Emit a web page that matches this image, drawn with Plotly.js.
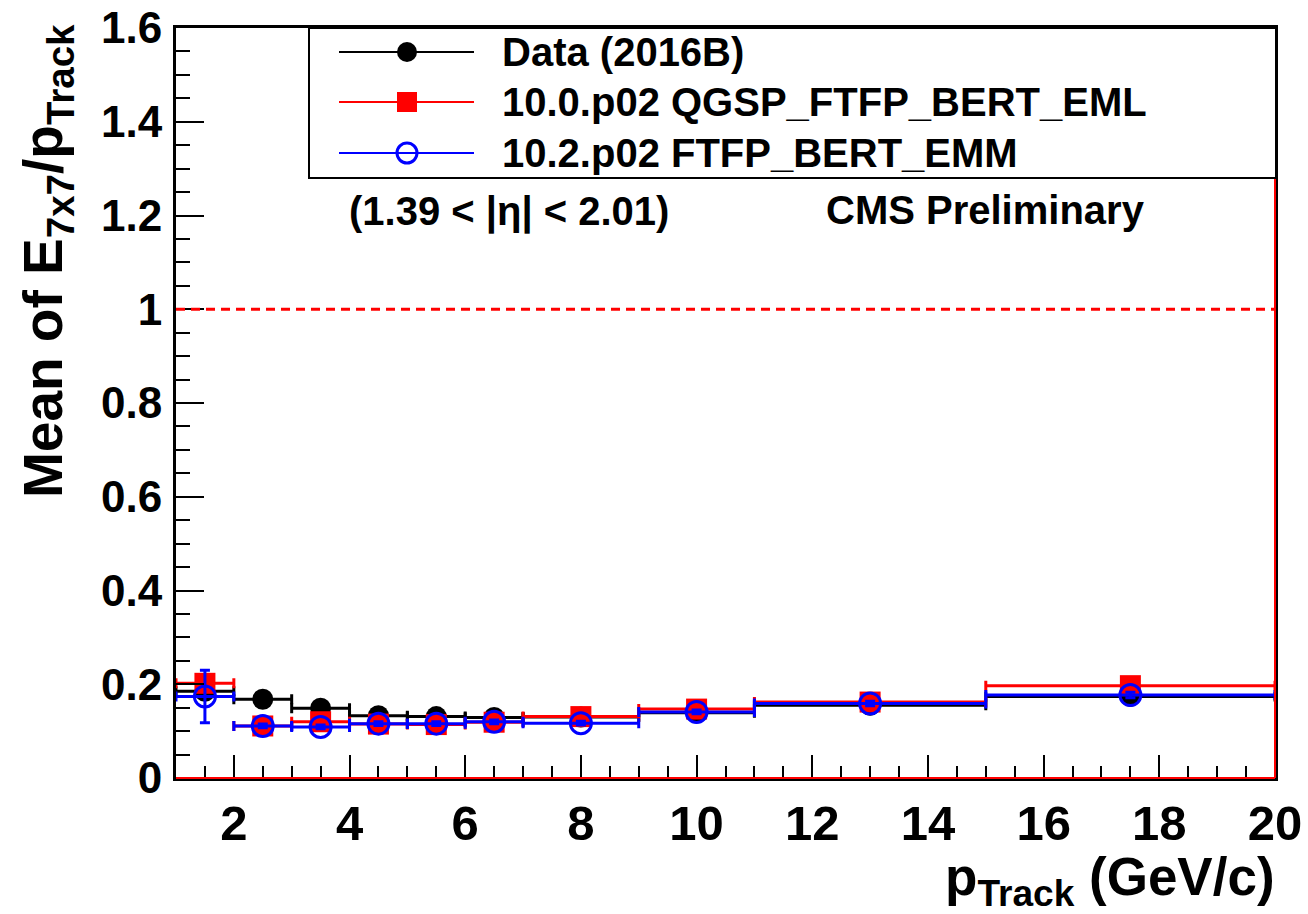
<!DOCTYPE html>
<html>
<head>
<meta charset="utf-8">
<script src="https://cdn.plot.ly/plotly-3.0.1.min.js"></script>
<style>html,body{margin:0;padding:0;background:#fff;}#chart{width:1308px;height:914px;}</style>
</head>
<body>
<div id="chart"></div>
<script>
// ---- data ----
const pTrack      = [1.5, 2.5, 3.5, 4.5, 5.5, 6.5, 8, 10, 13, 17.5];
const binHalf     = [0.5, 0.5, 0.5, 0.5, 0.5, 0.5, 1, 1, 2, 2.5];
const dataMean    = [0.185, 0.168, 0.149, 0.133, 0.131, 0.129, 0.130, 0.139, 0.155, 0.174];
const dataErr     = [0.004, 0.003, 0.003, 0.003, 0.003, 0.003, 0.003, 0.003, 0.004, 0.005];
const qgspMean    = [0.202, 0.111, 0.120, 0.115, 0.114, 0.119, 0.131, 0.147, 0.162, 0.197];
const qgspErr     = [0.010, 0.004, 0.004, 0.004, 0.004, 0.004, 0.004, 0.004, 0.005, 0.006];
const ftfpMean    = [0.174, 0.111, 0.109, 0.116, 0.116, 0.120, 0.117, 0.141, 0.159, 0.177];
const ftfpErr     = [0.056, 0.004, 0.004, 0.004, 0.004, 0.004, 0.004, 0.004, 0.005, 0.006];
const seriesNames = ["Data (2016B)", "10.0.p02 QGSP_FTFP_BERT_EML", "10.2.p02 FTFP_BERT_EMM"];
const xTitle = "p<sub>Track</sub> (GeV/c)";
const yTitle = "Mean of E<sub>7x7</sub>/p<sub>Track</sub>";
const etaLabel = "(1.39 < |η| < 2.01)";
const cmsLabel = "CMS Preliminary";

// ---- layout geometry ----
const W = 1308, H = 914;
const L = 176, R = 1275, T = 28, B = 778;
const px = x => (x - L) / (R - L);
const py = y => (B - y) / (B - T);
const FONT = "Liberation Sans, Arial, Helvetica, sans-serif";

function trace(y, ey, color, symbol, name, lineW) {
  return {
    type: 'scatter', mode: 'markers', x: pTrack, y: y, name: name,
    marker: {color: color, symbol: symbol, size: 21,
             line: {color: color, width: lineW}},
    error_x: {type: 'data', array: binHalf, color: color, thickness: 3, width: 5},
    error_y: {type: 'data', array: ey, color: color, thickness: 3, width: 5},
    showlegend: false, cliponaxis: false
  };
}

const traces = [
  trace(dataMean, dataErr, '#000000', 'circle', seriesNames[0], 0),
  trace(qgspMean, qgspErr, '#ff0000', 'square', seriesNames[1], 0),
  trace(ftfpMean, ftfpErr, '#0000ff', 'circle-open', seriesNames[2], 3)
];

const shapes = [
  {type: 'line', xref: 'paper', yref: 'y', x0: 0, x1: 1, y0: 1, y1: 1,
   line: {color: '#ff0000', width: 3, dash: '9px,6px'}, layer: 'above'},
  {type: 'line', xref: 'paper', yref: 'paper', x0: 0, x1: 1, y0: 0, y1: 0,
   line: {color: '#ff0000', width: 2}, layer: 'above'},
  {type: 'line', xref: 'paper', yref: 'paper', x0: 1, x1: 1, y0: 0, y1: 1,
   line: {color: '#ff0000', width: 2}, layer: 'above'},
  {type: 'rect', xref: 'paper', yref: 'paper', x0: px(309), x1: px(1276), y0: py(178), y1: py(28),
   fillcolor: '#ffffff', line: {color: '#000000', width: 2}, layer: 'above'}
];
const legendY = [52, 102, 153];
const legendCol = ['#000000', '#ff0000', '#0000ff'];
legendY.forEach((yy, i) => {
  shapes.push({type: 'line', xref: 'paper', yref: 'paper', x0: px(339), x1: px(474), y0: py(yy), y1: py(yy),
               line: {color: legendCol[i], width: 2}, layer: 'above'});
});
shapes.push({type: 'circle', xref: 'paper', yref: 'paper', xsizemode: 'pixel', ysizemode: 'pixel',
             xanchor: px(407), yanchor: py(legendY[0]), x0: -10, x1: 10, y0: -10, y1: 10,
             fillcolor: '#000000', line: {color: '#000000', width: 0}, layer: 'above'});
shapes.push({type: 'rect', xref: 'paper', yref: 'paper', xsizemode: 'pixel', ysizemode: 'pixel',
             xanchor: px(407), yanchor: py(legendY[1]), x0: -10, x1: 10, y0: -10, y1: 10,
             fillcolor: '#ff0000', line: {color: '#ff0000', width: 0}, layer: 'above'});
shapes.push({type: 'circle', xref: 'paper', yref: 'paper', xsizemode: 'pixel', ysizemode: 'pixel',
             xanchor: px(407), yanchor: py(legendY[2]), x0: -10, x1: 10, y0: -10, y1: 10,
             fillcolor: 'rgba(0,0,0,0)', line: {color: '#0000ff', width: 3}, layer: 'above'});

const txt = (size) => ({family: FONT, size: size, color: '#000000', weight: 'bold'});
const annotations = [];
seriesNames.forEach((n, i) => {
  annotations.push({xref: 'paper', yref: 'paper', x: px(500), y: py(legendY[i]), xanchor: 'left', yanchor: 'middle',
                    text: n, showarrow: false, font: txt(40)});
});
annotations.push({xref: 'paper', yref: 'paper', x: px(509), y: py(211), xanchor: 'center', yanchor: 'middle',
                  text: etaLabel, showarrow: false, font: txt(40)});
annotations.push({xref: 'paper', yref: 'paper', x: px(985), y: py(210), xanchor: 'center', yanchor: 'middle',
                  text: cmsLabel, showarrow: false, font: txt(40)});
annotations.push({xref: 'paper', yref: 'paper', x: px(1276), y: py(846), xanchor: 'right', yanchor: 'top',
                  text: xTitle, showarrow: false, font: txt(53), borderpad: 0});
annotations.push({xref: 'paper', yref: 'paper', x: px(10), y: py(22), xanchor: 'left', yanchor: 'top',
                  text: yTitle, textangle: -90, showarrow: false, font: txt(55)});

const layout = {
  width: W, height: H,
  margin: {l: L, r: W - R, t: T, b: H - B, pad: 0},
  paper_bgcolor: '#ffffff', plot_bgcolor: '#ffffff',
  showlegend: false,
  xaxis: {
    range: [1, 20], tick0: 0, dtick: 2, ticks: 'inside', ticklen: 23, tickwidth: 2, tickcolor: '#000',
    minor: {dtick: 0.5, ticks: 'inside', ticklen: 12, tickwidth: 2, tickcolor: '#000', showgrid: false},
    showline: true, linecolor: '#000', linewidth: 3, mirror: true,
    showgrid: false, zeroline: false,
    tickfont: txt(49), ticklabelstandoff: 0
  },
  yaxis: {
    range: [0, 1.6], tick0: 0, dtick: 0.2, ticks: 'inside', ticklen: 28, tickwidth: 2, tickcolor: '#000',
    minor: {dtick: 0.05, ticks: 'inside', ticklen: 14, tickwidth: 2, tickcolor: '#000', showgrid: false},
    showline: true, linecolor: '#000', linewidth: 3, mirror: true,
    showgrid: false, zeroline: false,
    tickfont: txt(44), ticklabelstandoff: 2
  },
  shapes: shapes,
  annotations: annotations
};

Plotly.newPlot('chart', traces, layout, {staticPlot: true, displayModeBar: false});
</script>
</body>
</html>
